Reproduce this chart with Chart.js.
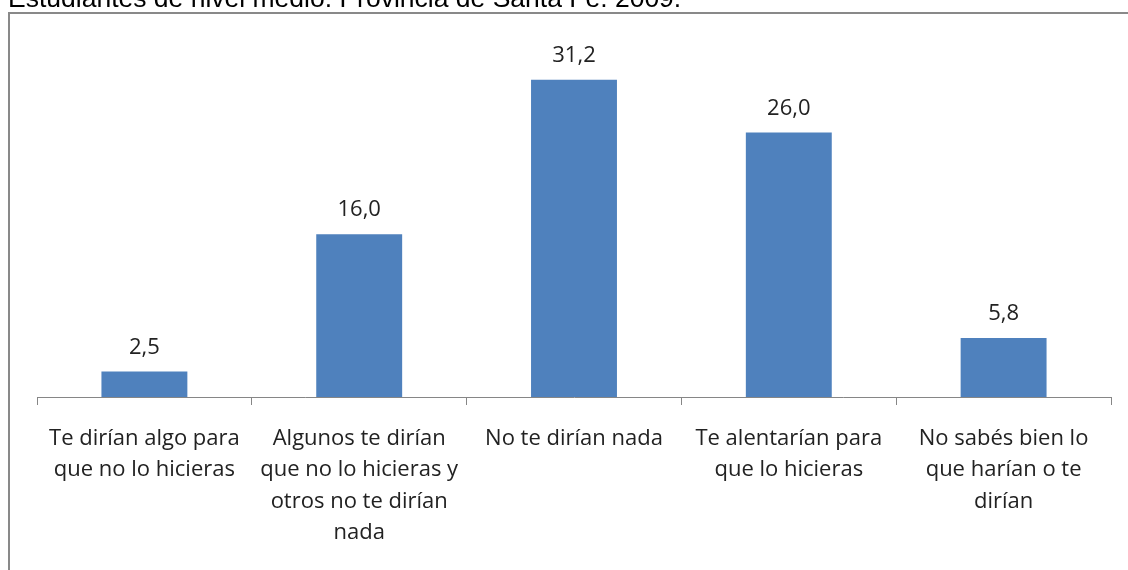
<!DOCTYPE html>
<html>
<head>
<meta charset="utf-8">
<script src="https://cdn.jsdelivr.net/npm/chart.js@4"></script>
<style>
  html, body { margin: 0; padding: 0; background: #fff; }
  #wrap { width: 1128px; height: 570px; }
</style>
</head>
<body>
<div id="wrap"><canvas id="chart" width="1128" height="570"></canvas></div>
<script>
// data
const categories = [
  ['Te dirían algo para', 'que no lo hicieras'],
  ['Algunos te dirían', 'que no lo hicieras y', 'otros no te dirían', 'nada'],
  ['No te dirían nada'],
  ['Te alentarían para', 'que lo hicieras'],
  ['No sabés bien lo', 'que harían o te', 'dirían']
];
const values = [2.5, 16.0, 31.2, 26.0, 5.8];
const title = 'Estudiantes de nivel medio. Provincia de Santa Fe. 2009.';

// frame + cut-off title
const framePlugin = {
  id: 'frame',
  beforeDraw(chart) {
    const c = chart.ctx;
    c.save();
    c.fillStyle = '#fff';
    c.fillRect(0, 0, chart.width, chart.height);
    c.strokeStyle = '#898989';
    c.lineWidth = 2;
    c.beginPath();
    c.moveTo(9, chart.height);
    c.lineTo(9, 13);
    c.lineTo(chart.width, 13);
    c.stroke();
    c.fillStyle = '#000';
    c.font = '26.5px "Liberation Sans", Arial, sans-serif';
    c.textBaseline = 'alphabetic';
    c.fillText(title, 8, 7);
    c.restore();
  }
};

// value labels above bars, comma decimals
const valueLabels = {
  id: 'valueLabels',
  afterDatasetsDraw(chart) {
    const c = chart.ctx;
    const meta = chart.getDatasetMeta(0);
    c.save();
    c.fillStyle = '#222';
    c.font = '22px "Open Sans", sans-serif';
    c.textAlign = 'center';
    c.textBaseline = 'alphabetic';
    meta.data.forEach((bar, i) => {
      c.fillText(values[i].toFixed(1).replace('.', ','), bar.x, bar.y - 18);
    });
    c.restore();
  }
};

new Chart(document.getElementById('chart'), {
  type: 'bar',
  data: {
    labels: categories,
    datasets: [{
      data: values,
      backgroundColor: '#4F81BD',
      borderWidth: 0,
      barPercentage: 0.4,
      categoryPercentage: 1
    }]
  },
  options: {
    responsive: false,
    animation: false,
    layout: { padding: { left: 37, right: 17, top: 41, bottom: 0 } },
    plugins: { legend: { display: false }, tooltip: { enabled: false } },
    scales: {
      y: { display: false, min: 0, max: 35 },
      x: {
        afterFit(s) { s.height = 173; },
        border: { display: true, color: '#868686', width: 1 },
        grid: {
          display: true,
          offset: true,
          drawOnChartArea: false,
          drawTicks: true,
          tickLength: 8,
          color: '#868686'
        },
        ticks: {
          color: '#222',
          padding: 18,
          maxRotation: 0,
          autoSkip: false,
          font: { family: 'Open Sans', size: 22, lineHeight: 1.43 }
        }
      }
    }
  },
  plugins: [framePlugin, valueLabels]
});
</script>
</body>
</html>
